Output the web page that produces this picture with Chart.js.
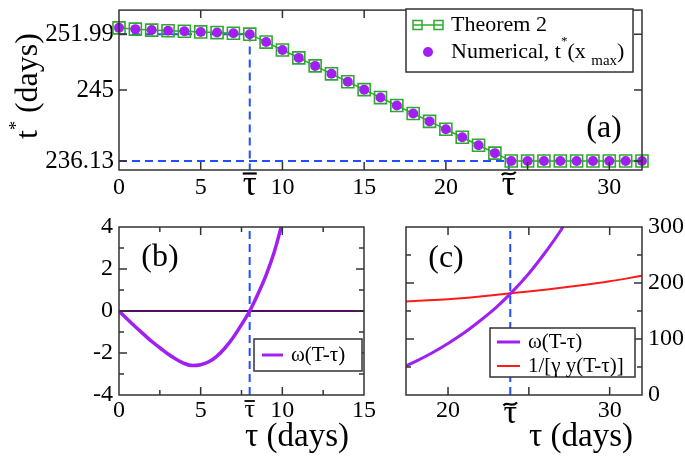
<!DOCTYPE html>
<html>
<head>
<meta charset="utf-8">
<script src="https://cdn.jsdelivr.net/npm/chart.js@4.4.0/dist/chart.umd.min.js"></script>
<style>
  body { margin: 0; background: #fff; }
  #wrap { position: relative; width: 685px; height: 459px; }
  #wrap canvas { position: absolute; left: 0; top: 0; }
</style>
</head>
<body>
<div id="wrap">
  <canvas id="chartA" width="685" height="459"></canvas>
  <canvas id="chartB" width="685" height="459"></canvas>
  <canvas id="chartC" width="685" height="459"></canvas>
</div>
<script>
// ---- data: panel (a) ----
const tauA = [0, 1, 2, 3, 4, 5, 6, 7, 8, 9, 10, 11, 12, 13, 14, 15, 16,
  17, 18, 19, 20, 21, 22, 23, 24, 25, 26, 27, 28, 29, 30, 31, 32];
const tTheorem = [252.78, 252.62, 252.50, 252.42, 252.35, 252.27, 252.19, 252.11, 251.99,
  251.00, 250.01, 249.02, 248.02, 247.03, 246.04, 245.05, 244.06, 243.06, 242.07,
  241.08, 240.09, 239.10, 238.10, 237.11, 236.13, 236.13, 236.13, 236.13, 236.13,
  236.13, 236.13, 236.13, 236.13];
const tNumerical = [252.78, 252.62, 252.50, 252.42, 252.35, 252.27, 252.19, 252.11, 251.99,
  251.00, 250.01, 249.02, 248.02, 247.03, 246.04, 245.05, 244.06, 243.06, 242.07,
  241.08, 240.09, 239.10, 238.10, 237.11, 236.13, 236.13, 236.13, 236.13, 236.13,
  236.13, 236.13, 236.13, 236.13];
const tauBar = 8;
const tauTilde = 23.85;
const tHigh = 251.99;
const tLow = 236.13;
const xTicksA = [0, 5, tauBar, 10, 15, 20, tauTilde, 30];
const yTicksA = [236.13, 245, 251.99];

// ---- data: panel (b) ----
const tauB = [0, 0.5, 1, 1.5, 2, 2.5, 3, 3.5, 4, 4.5, 5, 5.5, 6, 6.5, 7, 7.5, 8, 8.5, 9, 9.5, 10];
const omegaB = [0, -0.38, -0.75, -1.1, -1.45, -1.75, -2.05, -2.3, -2.5, -2.6, -2.56,
  -2.42, -2.15, -1.75, -1.25, -0.65, 0, 0.8, 1.7, 2.8, 4.2];
const xTicksB = [0, 5, tauBar, 10, 15];
const yTicksB = [-4, -2, 0, 2, 4];

// ---- data: panel (c) ----
const tauCw = [17.4, 18, 19, 20, 21, 22, 23, 24, 25, 26, 27, 27.3];
const omegaC = [52, 60, 75, 92, 111, 133, 157, 185, 217, 254, 295, 310];
const tauCr = [17.4, 18, 20, 22, 24, 26, 28, 30, 32];
const recipC = [167, 168, 171, 176, 182, 188, 195, 203, 213];
const xTicksC = [20, tauTilde, 30];
const yTicksC = [0, 100, 200, 300];

const SERIF = '"Liberation Serif", "Times New Roman", serif';
const GREEN = '#2ea82e';
const PURPLE = '#a020f0';
const BLUE = '#1f4fff';
const RED = '#ff1a1a';
const FRAME = '#333';

const pts = (xs, ys) => xs.map((x, i) => ({ x, y: ys[i] }));

const fixW = w => s => { s.width = w; s.paddingTop = s.paddingBottom = s.paddingLeft = s.paddingRight = 0; };
const fixH = h => s => { s.height = h; s.paddingTop = s.paddingBottom = s.paddingLeft = s.paddingRight = 0; };
const setTicks = vals => s => { s.ticks = vals.map(v => ({ value: v })); };

// tau-bar / tau-tilde ticks are drawn by the frame plugin (with their accent)
const tickLabel = v => (v === tauBar || v === tauTilde) ? '' : String(v);

function text(ctx, s, x, y, size, align, base) {
  ctx.font = size + 'px ' + SERIF;
  ctx.textAlign = align || 'left';
  ctx.textBaseline = base || 'middle';
  ctx.fillStyle = '#000';
  ctx.fillText(s, x, y);
  return ctx.measureText(s).width;
}

// τ with a bar or a tilde above it, centred on a tick
function accentTau(ctx, x, baseline, size, accentY, kind) {
  text(ctx, 'τ', x, baseline, size, 'center', 'alphabetic');
  const hw = size * 0.2;
  ctx.strokeStyle = '#000';
  ctx.lineWidth = size > 28 ? 2.2 : 1.8;
  ctx.beginPath();
  if (kind === 'bar') {
    ctx.moveTo(x - hw, accentY); ctx.lineTo(x + hw, accentY);
  } else {
    ctx.moveTo(x - hw, accentY + 1.5);
    ctx.bezierCurveTo(x - hw * 0.4, accentY - 3.5, x + hw * 0.1, accentY + 4.5, x + hw, accentY - 1.5);
  }
  ctx.stroke();
}

// frame + inward tick marks on all four sides
function framePlugin(spec) {
  return {
    id: 'frame',
    afterDatasetsDraw(chart) {
      const { ctx, chartArea: a, scales: { x, y } } = chart;
      ctx.save();
      ctx.strokeStyle = FRAME;
      ctx.lineWidth = 1.5;
      ctx.beginPath();
      const xt = (vals, len) => vals.forEach(v => {
        const p = x.getPixelForValue(v);
        ctx.moveTo(p, a.bottom); ctx.lineTo(p, a.bottom - len);
        ctx.moveTo(p, a.top); ctx.lineTo(p, a.top + len);
      });
      const yt = (vals, len) => vals.forEach(v => {
        const p = y.getPixelForValue(v);
        ctx.moveTo(a.left, p); ctx.lineTo(a.left + len, p);
        ctx.moveTo(a.right, p); ctx.lineTo(a.right - len, p);
      });
      xt(spec.xMajor, 8); xt(spec.xMinor || [], 5);
      yt(spec.yMajor, 8); yt(spec.yMinor || [], 5);
      ctx.stroke();
      ctx.strokeRect(a.left, a.top, a.right - a.left, a.bottom - a.top);
      ctx.restore();
    },
    afterDraw(chart) {
      const ctx = chart.ctx;
      ctx.save();
      (spec.taus || []).forEach(t => {
        const px = chart.scales.x.getPixelForValue(t.value);
        accentTau(ctx, px, chart.chartArea.bottom + t.base, t.size, chart.chartArea.bottom + t.acc, t.kind);
      });
      if (spec.extra) spec.extra(ctx, chart);
      ctx.restore();
    }
  };
}

function baseScales(xmin, xmax, ymin, ymax, xTicks, yTicks, opts) {
  return {
    x: {
      type: 'linear', min: xmin, max: xmax,
      grid: { display: false, drawTicks: false }, border: { display: false },
      afterBuildTicks: setTicks(xTicks),
      afterFit: fixH(opts.xh),
      ticks: { autoSkip: false, maxRotation: 0, padding: opts.xpad, color: '#000',
        font: { family: SERIF, size: 24 }, callback: v => tickLabel(v) }
    },
    y: {
      type: 'linear', min: ymin, max: ymax, position: opts.ypos || 'left',
      grid: { display: false, drawTicks: false }, border: { display: false },
      afterBuildTicks: setTicks(yTicks),
      afterFit: fixW(opts.yw),
      ticks: { autoSkip: false, padding: opts.ypad || 6, color: '#000',
        font: { family: SERIF, size: opts.yfont || 24 }, callback: v => String(v) }
    }
  };
}

const common = {
  responsive: false,
  animation: false,
  events: [],
  plugins: { legend: { display: false }, tooltip: { enabled: false } }
};

// ---------------- panel (a) ----------------
new Chart(document.getElementById('chartA'), {
  type: 'line',
  data: {
    datasets: [
      {
        data: pts(tauA, tNumerical), showLine: false, order: 0,
        pointStyle: 'circle', pointRadius: 5, pointBackgroundColor: PURPLE,
        pointBorderColor: PURPLE, pointBorderWidth: 0, clip: 12
      },
      {
        data: pts(tauA, tTheorem), order: 1,
        borderColor: GREEN, borderWidth: 1.5, tension: 0,
        pointStyle: 'rect', pointRadius: 8.5, pointBackgroundColor: 'rgba(0,0,0,0)',
        pointBorderColor: GREEN, pointBorderWidth: 1.6, clip: 12
      },
      {
        data: [{ x: 0, y: tHigh }, { x: tauBar, y: tHigh }, { x: tauBar, y: 235 }],
        order: 2, borderColor: BLUE, borderWidth: 2, borderDash: [8, 5], pointRadius: 0, clip: 0
      },
      {
        data: [{ x: 0, y: tLow }, { x: tauTilde, y: tLow }, { x: tauTilde, y: 235 }],
        order: 2, borderColor: BLUE, borderWidth: 2, borderDash: [8, 5], pointRadius: 0, clip: 0
      }
    ]
  },
  options: Object.assign({}, common, {
    layout: { padding: { left: 0, top: 2, right: 43, bottom: 0 } },
    scales: baseScales(0, 32, 235, 255, xTicksA, yTicksA, { xh: 289, yw: 119, xpad: 3, yfont: 25, ypad: 5 })
  }),
  plugins: [framePlugin({
    xMajor: [5, 10, 15, 20, 25, 30],
    yMajor: yTicksA,
    taus: [
      { value: tauBar, kind: 'bar', size: 35, base: 25, acc: 3.5 },
      { value: tauTilde, kind: 'tilde', size: 35, base: 25, acc: 3.5 }
    ],
    extra(ctx) {
      // y title  t* (days)
      ctx.translate(29, 86);
      ctx.rotate(-Math.PI / 2);
      ctx.font = '32px ' + SERIF;
      const w1 = ctx.measureText('t').width;
      ctx.font = '18px ' + SERIF;
      const w2 = ctx.measureText('*').width;
      ctx.font = '32px ' + SERIF;
      const w3 = ctx.measureText(' (days)').width;
      let x0 = -(w1 + w2 + w3) / 2;
      x0 += text(ctx, 't', x0, 0, 32);
      x0 += text(ctx, '*', x0, -12, 18);
      text(ctx, ' (days)', x0, 0, 32);
      ctx.setTransform(1, 0, 0, 1, 0, 0);

      // legend box
      ctx.fillStyle = '#fff';
      ctx.fillRect(406, 9, 227, 63);
      ctx.strokeStyle = FRAME; ctx.lineWidth = 1.5;
      ctx.strokeRect(406, 9, 227, 63);
      ctx.strokeStyle = GREEN; ctx.lineWidth = 1.5;
      ctx.beginPath(); ctx.moveTo(413, 25); ctx.lineTo(443, 25); ctx.stroke();
      ctx.strokeRect(413, 20.5, 9, 9);
      ctx.strokeRect(434, 20.5, 9, 9);
      text(ctx, 'Theorem 2', 451, 25, 22);
      ctx.fillStyle = PURPLE;
      ctx.beginPath(); ctx.arc(428, 52, 5, 0, Math.PI * 2); ctx.fill();
      let lx = 451;
      lx += text(ctx, 'Numerical, t', lx, 52, 22);
      lx += text(ctx, '*', lx, 42, 13);
      lx += text(ctx, '(x ', lx, 52, 22);
      lx += text(ctx, 'max', lx, 61, 15);
      text(ctx, ')', lx, 52, 22);

      text(ctx, '(a)', 604, 129, 32, 'center');
    }
  })]
});

// ---------------- panel (b) ----------------
new Chart(document.getElementById('chartB'), {
  type: 'line',
  data: {
    datasets: [
      {
        data: pts(tauB, omegaB), borderColor: PURPLE, borderWidth: 3.5,
        cubicInterpolationMode: 'monotone', pointRadius: 0, clip: 0, order: 0
      },
      {
        data: [{ x: 0, y: 0 }, { x: 15, y: 0 }], borderColor: '#4d1060', borderWidth: 2,
        pointRadius: 0, clip: 0, order: 1
      },
      {
        data: [{ x: tauBar, y: -4 }, { x: tauBar, y: 4 }], borderColor: BLUE, borderWidth: 2,
        borderDash: [8, 5], pointRadius: 0, clip: 0, order: 2
      }
    ]
  },
  options: Object.assign({}, common, {
    layout: { padding: { left: 0, top: 227, right: 321, bottom: 0 } },
    scales: baseScales(0, 15, -4, 4, xTicksB, yTicksB, { xh: 64, yw: 119, xpad: 1 })
  }),
  plugins: [framePlugin({
    xMajor: [5, 10], xMinor: [2.5, 7.5, 12.5],
    yMajor: [-2, 0, 2], yMinor: [-3, -1, 1, 3],
    taus: [{ value: tauBar, kind: 'bar', size: 26, base: 22, acc: 6 }],
    extra(ctx) {
      ctx.fillStyle = '#fff';
      ctx.fillRect(254, 339, 108, 32);
      ctx.strokeStyle = FRAME; ctx.lineWidth = 1.5;
      ctx.strokeRect(254, 339, 108, 32);
      ctx.strokeStyle = PURPLE; ctx.lineWidth = 3;
      ctx.beginPath(); ctx.moveTo(262, 355); ctx.lineTo(283, 355); ctx.stroke();
      text(ctx, 'ω(T-τ)', 291, 355, 21);
      text(ctx, '(b)', 160, 258, 32, 'center');
      text(ctx, 'τ (days)', 297, 437, 33, 'center');
    }
  })]
});

// ---------------- panel (c) ----------------
new Chart(document.getElementById('chartC'), {
  type: 'line',
  data: {
    datasets: [
      {
        data: pts(tauCw, omegaC), borderColor: PURPLE, borderWidth: 3,
        cubicInterpolationMode: 'monotone', pointRadius: 0, clip: 0, order: 0
      },
      {
        data: pts(tauCr, recipC), borderColor: RED, borderWidth: 2,
        cubicInterpolationMode: 'monotone', pointRadius: 0, clip: 0, order: 1
      },
      {
        data: [{ x: tauTilde, y: 0 }, { x: tauTilde, y: 300 }], borderColor: BLUE, borderWidth: 2,
        borderDash: [8, 5], pointRadius: 0, clip: 0, order: 2
      }
    ]
  },
  options: Object.assign({}, common, {
    layout: { padding: { left: 406, top: 227, right: 0, bottom: 0 } },
    scales: baseScales(17.4, 32, 0, 300, xTicksC, yTicksC, { xh: 64, yw: 43, xpad: 1, ypos: 'right' })
  }),
  plugins: [framePlugin({
    xMajor: [20, 25, 30],
    yMajor: [100, 200], yMinor: [50, 150, 250],
    taus: [{ value: tauTilde, kind: 'tilde', size: 34, base: 28, acc: 9 }],
    extra(ctx) {
      ctx.fillStyle = '#fff';
      ctx.fillRect(490, 328, 145, 49);
      ctx.strokeStyle = FRAME; ctx.lineWidth = 1.5;
      ctx.strokeRect(490, 328, 145, 49);
      ctx.strokeStyle = PURPLE; ctx.lineWidth = 3;
      ctx.beginPath(); ctx.moveTo(497, 342); ctx.lineTo(520, 342); ctx.stroke();
      ctx.strokeStyle = RED; ctx.lineWidth = 2;
      ctx.beginPath(); ctx.moveTo(497, 366); ctx.lineTo(520, 366); ctx.stroke();
      text(ctx, 'ω(T-τ)', 528, 342, 21);
      text(ctx, '1/[γ y(T-τ)]', 528, 366, 21);
      text(ctx, '(c)', 446, 259, 32, 'center');
      text(ctx, 'τ (days)', 581, 437, 33, 'center');
    }
  })]
});
</script>
</body>
</html>
